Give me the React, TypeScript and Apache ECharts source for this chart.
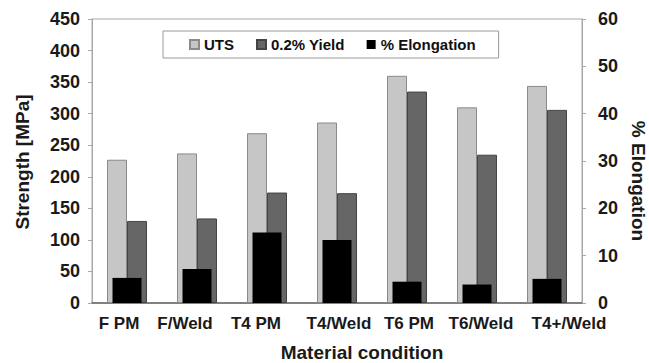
import React, { useEffect, useRef } from "react";
import * as echarts from "echarts";

const categories = ["F PM", "F/Weld", "T4 PM", "T4/Weld", "T6 PM", "T6/Weld", "T4+/Weld"];
const utsValues = [227, 237, 269, 286, 360, 310, 344];
const yieldValues = [130, 134, 175, 174, 335, 235, 306];
const elongationValues = [5.3, 7.2, 14.9, 13.3, 4.5, 3.9, 5.1];

// horizontal nudges of the category labels (px), as laid out in the reference
const labelShift = [-8, -12, -11, 2, 2, 4, 22];

const txtFont = "Liberation Sans, Arial, sans-serif";

export default function App() {
  const ref = useRef<HTMLDivElement>(null);
  useEffect(() => {
    if (!ref.current) return;
    const chart = echarts.init(ref.current, null, { renderer: "svg" });
    const catData = categories.map((c, i) => {
      const s = labelShift[i];
      return {
        value: c,
        textStyle: { padding: s >= 0 ? [0, 0, 0, 2 * s] : [0, -2 * s, 0, 0] },
      };
    });
    chart.setOption({
      animation: false,
      backgroundColor: "#fff",
      grid: {
        left: 92,
        top: 19,
        right: 67,
        bottom: 60,
        show: true,
        borderColor: "#a8a8a8",
        borderWidth: 1,
      },
      legend: {
        left: 163,
        top: 31,
        padding: [6, 23, 6, 26],
        itemGap: 22,
        itemWidth: 9,
        itemHeight: 9,
        icon: "rect",
        borderColor: "#999",
        borderWidth: 1,
        backgroundColor: "#fff",
        textStyle: { fontFamily: txtFont, fontWeight: "bold", fontSize: 15, color: "#111" },
        data: ["UTS", "0.2% Yield", "% Elongation"],
      },
      xAxis: [
        {
          type: "category",
          data: catData,
          axisLine: { lineStyle: { color: "#666", width: 1.5 } },
          axisTick: { show: false },
          axisLabel: {
            interval: 0,
            fontFamily: txtFont,
            fontWeight: "bold",
            fontSize: 17,
            color: "#1a1a1a",
            margin: 12,
          },
        },
        {
          type: "category",
          data: categories,
          show: false,
        },
      ],
      yAxis: [
        {
          type: "value",
          min: 0,
          max: 450,
          interval: 50,
          splitLine: { show: false },
          axisLine: { show: true, lineStyle: { color: "#a8a8a8" } },
          axisTick: { show: true, length: 4, lineStyle: { color: "#a8a8a8" } },
          axisLabel: { fontFamily: txtFont, fontWeight: "bold", fontSize: 18, color: "#1a1a1a", margin: 12 },
        },
        {
          type: "value",
          min: 0,
          max: 60,
          interval: 10,
          position: "right",
          splitLine: { show: false },
          axisLine: { show: true, lineStyle: { color: "#a8a8a8" } },
          axisTick: { show: true, length: 4, lineStyle: { color: "#a8a8a8" } },
          axisLabel: { fontFamily: txtFont, fontWeight: "bold", fontSize: 18, color: "#1a1a1a", margin: 16 },
        },
      ],
      series: [
        {
          name: "UTS",
          type: "bar",
          xAxisIndex: 0,
          yAxisIndex: 0,
          data: utsValues,
          barWidth: 20,
          barGap: "0%",
          itemStyle: { color: "#c6c6c6", borderColor: "#8a8a8a", borderWidth: 1 },
        },
        {
          name: "0.2% Yield",
          type: "bar",
          xAxisIndex: 0,
          yAxisIndex: 0,
          data: yieldValues,
          barWidth: 20,
          barGap: "0%",
          itemStyle: { color: "#666666", borderColor: "#444", borderWidth: 1 },
        },
        {
          name: "% Elongation",
          type: "bar",
          xAxisIndex: 1,
          yAxisIndex: 1,
          data: elongationValues,
          barWidth: 29,
          itemStyle: { color: "#000" },
        },
      ],
      graphic: [
        {
          type: "text",
          x: 22,
          y: 162,
          rotation: Math.PI / 2,
          style: {
            text: "Strength [MPa]",
            fontFamily: txtFont,
            fontWeight: "bold",
            fontSize: 19,
            fill: "#1a1a1a",
            align: "center",
            verticalAlign: "middle",
          },
        },
        {
          type: "text",
          x: 638,
          y: 181,
          rotation: -Math.PI / 2,
          style: {
            text: "% Elongation",
            fontFamily: txtFont,
            fontWeight: "bold",
            fontSize: 19,
            fill: "#1a1a1a",
            align: "center",
            verticalAlign: "middle",
          },
        },
        {
          type: "text",
          x: 362,
          y: 352,
          style: {
            text: "Material condition",
            fontFamily: txtFont,
            fontWeight: "bold",
            fontSize: 19,
            fill: "#1a1a1a",
            align: "center",
            verticalAlign: "middle",
          },
        },
      ],
    });
    return () => chart.dispose();
  }, []);
  return (
    <div
      ref={ref}
      style={{ position: "absolute", left: 0, top: 0, width: 649, height: 363 }}
    />
  );
}
